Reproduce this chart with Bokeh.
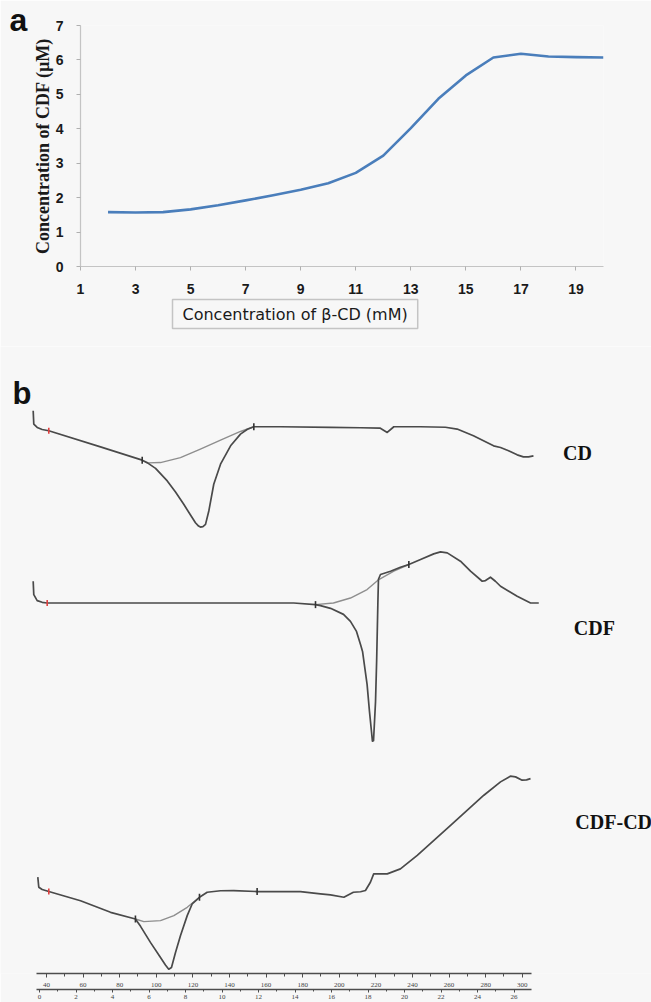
import numpy as np
from bokeh.plotting import figure
from bokeh.models import Range1d, LinearAxis, FixedTicker, SingleIntervalTicker, Label, Title
from bokeh.layouts import column
from bokeh.embed import file_html
from bokeh.resources import INLINE

# ---------------- Panel a data ----------------
bcd_conc = [2, 3, 4, 5, 6, 7, 8, 9, 10, 11, 12, 13, 14, 15, 16, 17, 18, 19, 20]
cdf_conc = [1.58, 1.57, 1.58, 1.66, 1.78, 1.92, 2.07, 2.23, 2.42, 2.72, 3.22, 4.02,
            4.87, 5.55, 6.07, 6.18, 6.10, 6.08, 6.07]
a_xticks = [1, 3, 5, 7, 9, 11, 13, 15, 17, 19]
a_yticks = [0, 1, 2, 3, 4, 5, 6, 7]

# ---------------- Panel b data (temperature degC, heat flow a.u.) ----------------
cd_temp = [32.73, 33.06, 34.92, 37.65, 41.26, 69.5, 92.3, 95.2, 99.6, 106.0, 110.5, 115.0,
           118.7, 121.4, 123.1, 124.1, 125.5, 126.9, 128.7, 131.4, 135.1, 140.6, 146.0,
           149.8, 153.3, 167.9, 195.2, 211.6, 222.2, 226.2, 229.8, 244.4, 258.0, 264.4,
           273.3, 284.3, 288.1, 292.5, 297.2, 300.6, 303.4, 306.1]
cd_heat = [1.6, 0.27, -0.07, -0.27, -0.4, -2.0, -3.33, -3.6, -4.15, -5.4, -6.5, -7.73,
           -8.8, -9.57, -9.9, -10.0, -9.95, -9.73, -8.4, -5.73, -3.73, -1.9, -0.73,
           -0.25, 0.0, 0.0, -0.07, -0.1, -0.13, -0.57, 0.0, 0.0, -0.05, -0.23,
           -0.9, -1.9, -2.07, -2.4, -2.8, -3.0, -3.0, -2.9]
cd_base_temp = [95.2, 102.3, 113.2, 124.1, 135.1, 146.0, 153.3]
cd_base_heat = [-3.6, -3.57, -3.07, -2.23, -1.33, -0.47, 0.0]

cdf_temp = [32.73, 33.06, 34.92, 37.65, 40.38, 69.5, 124.1, 175.1, 187.0, 189.7, 195.2,
            202.3, 206.1, 209.4, 211.6, 212.7, 215.2, 216.5, 217.6, 218.1, 218.7, 219.8,
            220.4, 221.1, 221.4, 222.5, 228.0, 233.4, 238.0, 244.4, 251.6, 255.3, 259.0,
            266.2, 271.7, 278.1, 279.9, 282.6, 285.3, 288.1, 297.2, 304.5, 309.0]
cdf_heat = [2.17, 0.84, 0.24, 0.07, 0.0, 0.0, 0.0, 0.0, -0.16, -0.26, -0.53,
            -1.13, -1.83, -2.83, -4.13, -4.83, -8.13, -10.83, -12.83, -13.76, -13.73, -9.83,
            -5.83, 0.17, 2.37, 2.84, 3.17, 3.57, 3.84, 4.34, 4.9, 5.1, 5.0,
            4.17, 3.17, 2.17, 2.24, 2.57, 2.17, 1.67, 0.67, 0.0, 0.0]
cdf_base_temp = [187.0, 196.8, 206.1, 215.2, 221.6, 229.8, 238.0]
cdf_base_heat = [-0.16, 0.0, 0.5, 1.34, 2.34, 3.17, 3.84]

cdfcd_temp = [35.25, 35.79, 37.65, 41.26, 58.6, 75.0, 88.6, 91.4, 96.8, 102.3, 105.0, 106.8,
              108.3, 110.5, 113.2, 116.9, 119.6, 123.6, 127.8, 135.1, 142.3, 155.1, 178.8,
              189.7, 195.2, 202.5, 207.7, 211.6, 214.3, 217.0, 218.8, 226.2, 233.4, 242.6,
              260.8, 279.0, 288.1, 293.5, 296.3, 299.9, 302.3, 304.5]
cdfcd_heat = [1.43, 0.43, 0.2, 0.0, -0.92, -2.07, -2.74, -3.47, -5.07, -6.57, -7.32, -7.74,
              -7.57, -6.07, -4.4, -2.4, -1.24, -0.57, -0.07, 0.08, 0.1, 0.0, 0.0,
              -0.24, -0.34, -0.57, -0.07, -0.02, 0.1, 0.93, 1.76, 1.76, 2.26, 3.6,
              6.6, 9.6, 10.93, 11.5, 11.43, 11.1, 11.13, 11.26]
cdfcd_base_temp = [88.6, 93.2, 102.3, 109.6, 116.9, 123.6]
cdfcd_base_heat = [-2.74, -3.0, -2.9, -2.4, -1.57, -0.57]

# analysis marks on the traces
cd_marks_temp = [92.3, 153.3]
cd_marks_heat = [-3.33, 0.0]
cdf_marks_temp = [187.0, 238.0]
cdf_marks_heat = [-0.16, 3.84]
cdfcd_marks_temp = [88.6, 123.6, 155.1]
cdfcd_marks_heat = [-2.74, -0.57, 0.0]
start_marks_temp = [41.26, 40.38, 41.26]
start_marks_heat = [-0.4, 0.0, 0.0]

curve_names = ["CD", "CDF", "CDF-CD"]

# layout constants (vertical stacking of the thermograms)
OFFSETS = {"CD": 54.7, "CDF": 37.13, "CDF-CD": 8.37}

BG = "#f7f7f7"

# ---------------- Panel a ----------------
pa = figure(width=651, height=346, x_range=Range1d(1, 20), y_range=Range1d(0, 7),
            output_backend="svg", toolbar_location=None, frame_align=False,
            title="a", title_location="above",
            min_border_left=80, min_border_right=48, min_border_top=25, min_border_bottom=80,
            background_fill_color=BG, border_fill_color=BG, outline_line_color=None)
pa.title.align = "left"
pa.title.offset = -71
pa.title.standoff = -24
pa.title.vertical_align = "bottom"
pa.title.text_font = "Liberation Sans"
pa.title.text_font_style = "bold"
pa.title.text_font_size = "32px"
pa.title.text_color = "#111111"

pa.grid.visible = False
pa.xaxis.ticker = FixedTicker(ticks=a_xticks)
pa.yaxis.ticker = FixedTicker(ticks=a_yticks)
for ax in (pa.xaxis[0], pa.yaxis[0]):
    ax.axis_line_color = "#c4c4c4"
    ax.axis_line_width = 1.2
    ax.major_tick_line_color = "#b0b0b0"
    ax.major_tick_in = 0
    ax.major_tick_out = 4
    ax.minor_tick_line_color = None
    ax.major_label_text_font = "Liberation Sans"
    ax.major_label_text_font_style = "bold"
    ax.major_label_text_font_size = "14px"
    ax.major_label_text_color = "#1a1a1a"
pa.xaxis.major_label_standoff = 13
pa.yaxis.major_label_standoff = 13
pa.yaxis.axis_label = "Concentration of CDF (µM)"
pa.yaxis.axis_label_text_font = "Liberation Serif"
pa.yaxis.axis_label_text_font_style = "bold"
pa.yaxis.axis_label_text_font_size = "18px"
pa.yaxis.axis_label_text_color = "#1a1a1a"
pa.yaxis.axis_label_standoff = 0

pa.line(bcd_conc, cdf_conc, line_color="#4a7ebb", line_width=2.6, line_join="round")

pa.add_layout(Title(text="Concentration of β-CD (mM)", align="left", offset=92,
                    standoff=2, text_font="DejaVu Sans", text_font_size="16px",
                    text_font_style="normal", text_color="#1a1a1a",
                    border_line_color="#c4c4c4", border_line_width=1.5,
                    padding=dict(left=10, right=10, top=5, bottom=5)),
              "below")

# ---------------- Panel b ----------------
pb = figure(width=651, height=656, x_range=Range1d(14.87, 370.6), y_range=Range1d(0.2, 62.7),
            output_backend="svg", toolbar_location=None, y_axis_location=None,
            frame_align=False,
            min_border_left=0, min_border_right=0, min_border_top=0, min_border_bottom=29,
            background_fill_color=BG, border_fill_color=BG, outline_line_color=None)
pb.grid.visible = False
pb.extra_x_ranges = {"time": Range1d(-2.137, 33.53)}

tax = pb.xaxis[0]
tax.ticker = SingleIntervalTicker(interval=20, num_minor_ticks=2)
tax.bounds = (34.5, 305)
time_ax = LinearAxis(x_range_name="time",
                     ticker=SingleIntervalTicker(interval=2, num_minor_ticks=2),
                     bounds=(-0.16, 26.96))
pb.add_layout(time_ax, "below")
for ax in (tax, time_ax):
    ax.axis_line_color = "#4d4d4d"
    ax.axis_line_width = 1.6
    ax.major_tick_line_color = "#4d4d4d"
    ax.minor_tick_line_color = "#4d4d4d"
    ax.major_tick_in = 0
    ax.minor_tick_in = 0
    ax.major_label_text_font = "Liberation Serif"
    ax.major_label_text_color = "#444444"
    ax.major_label_text_font_size = "7px"
tax.major_tick_out = 4
tax.minor_tick_out = 3
tax.major_label_standoff = 5
time_ax.major_tick_out = 3
time_ax.minor_tick_out = 2
time_ax.major_label_standoff = 2

TRACE = "#4a4a4a"
BASE = "#8e8e8e"
curves = {
    "CD": (cd_temp, cd_heat, cd_base_temp, cd_base_heat, cd_marks_temp, cd_marks_heat),
    "CDF": (cdf_temp, cdf_heat, cdf_base_temp, cdf_base_heat, cdf_marks_temp, cdf_marks_heat),
    "CDF-CD": (cdfcd_temp, cdfcd_heat, cdfcd_base_temp, cdfcd_base_heat,
               cdfcd_marks_temp, cdfcd_marks_heat),
}
for name in curve_names:
    t, h, bt, bh, mt, mh = curves[name]
    off = OFFSETS[name]
    pb.line(bt, [v + off for v in bh], line_color=BASE, line_width=1.4, line_join="round")
    pb.line(t, [v + off for v in h], line_color=TRACE, line_width=1.7, line_join="round")
    pb.scatter(mt, [v + off for v in mh], marker="dash", angle=np.pi / 2, size=7,
               line_color="#333333", line_width=1.6)

pb.scatter(start_marks_temp,
           [v + OFFSETS[n] for v, n in zip(start_marks_heat, curve_names)],
           marker="dash", angle=np.pi / 2, size=6, line_color="#e04040", line_width=1.6)

label_style = dict(text_font="Liberation Serif", text_font_style="bold",
                   text_font_size="20px", text_color="#111111", text_baseline="middle")
pb.add_layout(Label(x=330.1, y=52.1, text="CD", text_align="center", **label_style))
pb.add_layout(Label(x=339.4, y=34.6, text="CDF", text_align="center", **label_style))
pb.add_layout(Label(x=329.0, y=15.3, text="CDF-CD", text_align="left", **label_style))
pb.add_layout(Label(x=21.4, y=58.0, text="b", text_font="Liberation Sans",
                    text_font_style="bold", text_font_size="31px", text_color="#111111",
                    text_baseline="alphabetic"))

layout = column(pa, pb)
open("out.html", "w").write(file_html(layout, INLINE))
